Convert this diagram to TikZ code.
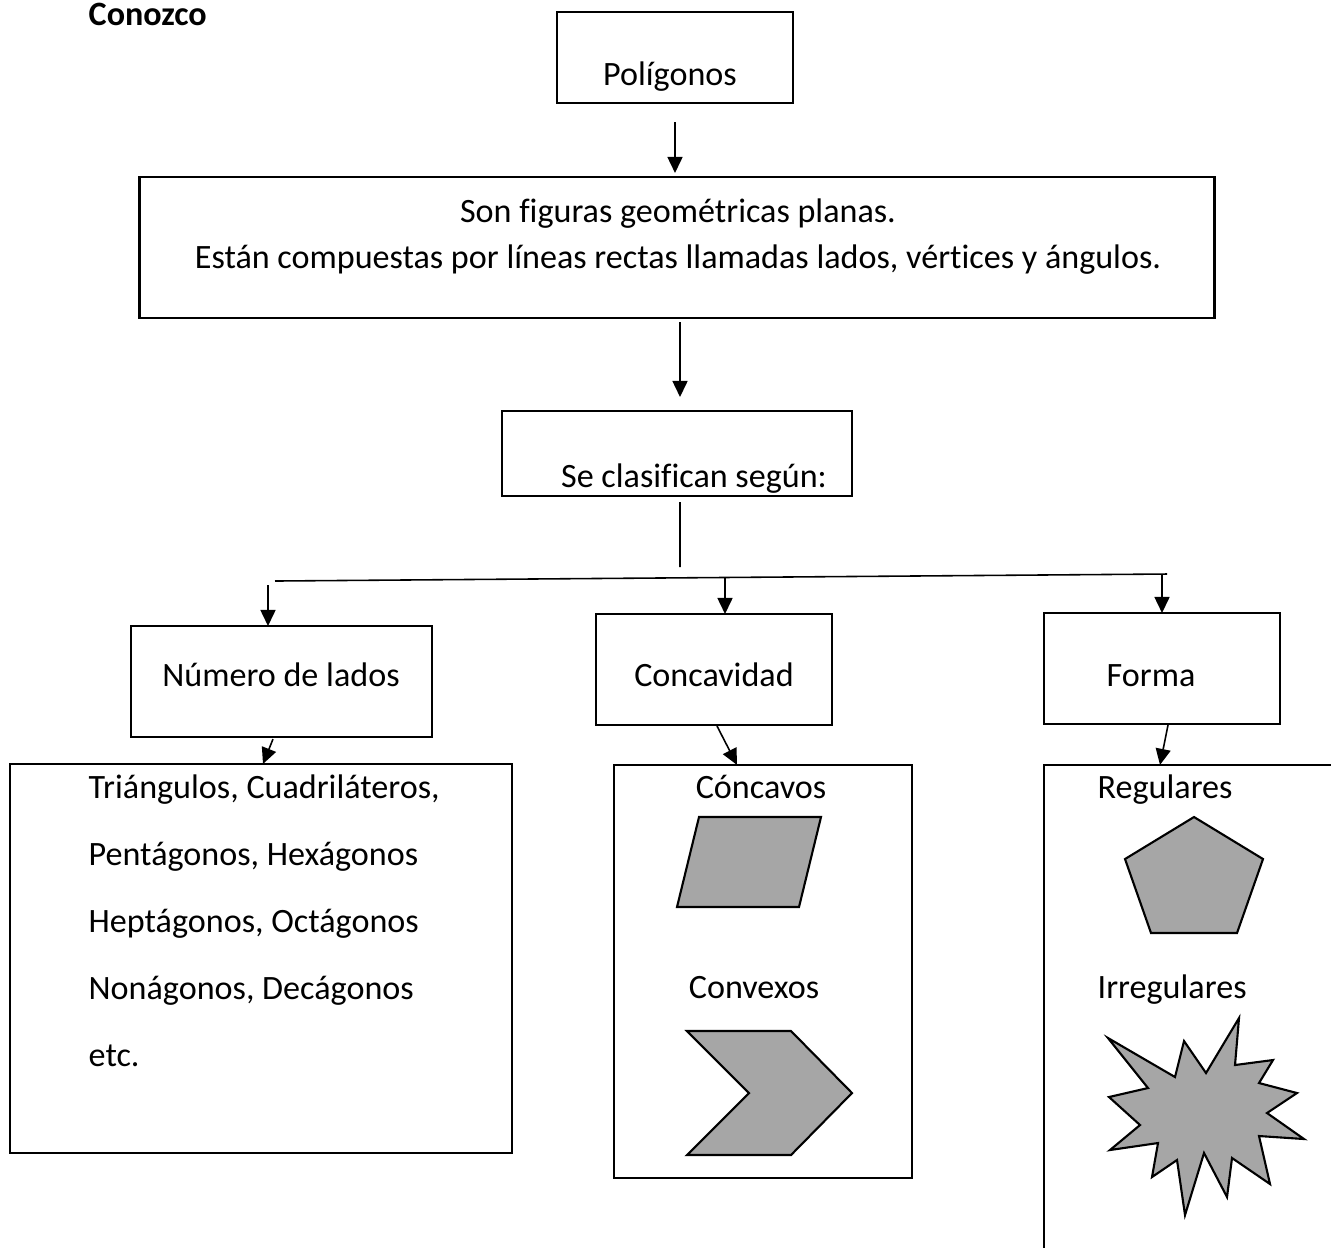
\documentclass[tikz,border=0pt]{standalone}
\usepackage{fontspec}
\setmainfont{Carlito}[RawFeature={-liga;-clig}]
\usepackage{tikz}
\usetikzlibrary{arrows.meta}
\definecolor{relleno}{HTML}{A6A6A6}

\begin{document}
\begin{tikzpicture}[x=0.01cm,y=-0.01cm,
    caja/.style={draw, line width=0.75pt, inner sep=0pt, outer sep=0pt},
    texto/.style={font=\fontsize{9.7}{11.6}\selectfont, inner sep=0pt, anchor=base},
    flecha/.style={line width=0.45pt, -{Triangle[length=0.16cm,width=0.15cm]}},
    linea/.style={line width=0.45pt},
    figura/.style={draw, line width=0.6pt, fill=relleno}]

\useasboundingbox (0,0) rectangle (1331,1247);
\clip (0,0) rectangle (1331,1247);

% Cajas
\node[caja, minimum width=2.36cm, minimum height=0.91cm] (poligonos) at (675,57.5) {};
\node[caja, minimum width=10.74cm, minimum height=1.41cm] (definicion) at (677,247.5) {};
\node[caja, minimum width=3.50cm, minimum height=0.85cm] (clasifican) at (677,453.5) {};
\node[caja, minimum width=3.01cm, minimum height=1.11cm] (numero) at (281.5,681.5) {};
\node[caja, minimum width=2.36cm, minimum height=1.11cm] (concavidad) at (714,669.5) {};
\node[caja, minimum width=2.36cm, minimum height=1.11cm] (forma) at (1162,668.5) {};
\node[caja, minimum width=5.02cm, minimum height=3.89cm] (lista) at (261,958.5) {};
\node[caja, minimum width=2.98cm, minimum height=4.13cm] (concavos) at (763,971.5) {};
\node[caja, minimum width=2.98cm, minimum height=4.97cm] (formas) at (1193,1013.5) {};

% Textos
\node[texto, anchor=base west, font=\bfseries\fontsize{9.7}{11.6}\selectfont] (titulo) at (88,25) {Conozco};
\node[texto] (tpoligonos) at (670,85) {Polígonos};
\node[texto] (tdef1) at (678,222) {Son figuras geométricas planas.};
\node[texto] (tdef2) at (678,268) {Están compuestas por líneas rectas llamadas lados, vértices y ángulos.};
\node[texto] (tclasifican) at (694,487) {Se clasifican según:};
\node[texto] (tnumero) at (281,686) {Número de lados};
\node[texto] (tconcavidad) at (714,686) {Concavidad};
\node[texto, anchor=base west] (tforma) at (1106,686) {Forma};
\foreach \t [count=\i] in {{Triángulos, Cuadriláteros,},{Pentágonos, Hexágonos},{Heptágonos, Octágonos},{Nonágonos, Decágonos},{etc.}}
    \node[texto, anchor=base west] (tlista\i) at (88,{798+67*(\i-1)}) {\t};
\node[texto] (tconcavos) at (761,798) {Cóncavos};
\node[texto] (tconvexos) at (754,998) {Convexos};
\node[texto, anchor=base west] (tregulares) at (1097,798) {Regulares};
\node[texto, anchor=base west] (tirregulares) at (1097,998) {Irregulares};

% Figuras
\draw[figura] (699,817) -- (821,817) -- (799,907) -- (677,907) -- cycle;
\draw[figura] (687,1031) -- (791,1031) -- (852,1093) -- (791,1155) -- (687,1155) -- (749,1093) -- cycle;
\draw[figura] (1194,817) -- (1263,859) -- (1237,933) -- (1151,933) -- (1125,859) -- cycle;
\draw[figura] (1239,1018) -- (1235,1065) -- (1273,1060) -- (1259,1083) -- (1297,1093)
    -- (1267,1113) -- (1304,1139) -- (1259,1136) -- (1270,1184) -- (1232,1158)
    -- (1227,1197) -- (1204,1153) -- (1185,1215) -- (1177,1160) -- (1152,1177)
    -- (1158,1143) -- (1110,1150) -- (1140,1125) -- (1109,1097) -- (1148,1088)
    -- (1108,1038) -- (1175,1077) -- (1184,1041) -- (1206,1073) -- cycle;

% Conectores
\coordinate (nudo) at (680,567);
\coordinate (ramaI) at (275,581);
\coordinate (ramaD) at (1167,574);
\coordinate (baja1) at (268,585);
\coordinate (baja2) at (725,578);
\coordinate (baja3) at (1162,575);

\draw[flecha] ([yshift=-0.19cm]poligonos.south) -- ([yshift=0.04cm]poligonos.south |- definicion.north);
\draw[flecha] ([xshift=0.03cm,yshift=-0.04cm]definicion.south) -- ([xshift=0.03cm,yshift=0.14cm]clasifican.north);
\draw[linea] ([xshift=0.03cm,yshift=-0.06cm]clasifican.south) -- (nudo);
\draw[linea] (ramaI) -- (ramaD);
\draw[flecha] (baja1) -- (baja1 |- numero.north);
\draw[flecha] (baja2) -- (baja2 |- concavidad.north);
\draw[flecha] (baja3) -- (baja3 |- forma.north);
\draw[flecha] ([xshift=-0.085cm,yshift=-0.02cm]numero.south) -- ([xshift=0.02cm]lista.north);
\draw[flecha] ([xshift=0.03cm,yshift=-0.01cm]concavidad.south) -- ([xshift=-0.26cm]concavos.north);
\draw[flecha] ([xshift=0.06cm,yshift=-0.01cm]forma.south) -- ([xshift=-0.33cm]formas.north);

\end{tikzpicture}
\end{document}
